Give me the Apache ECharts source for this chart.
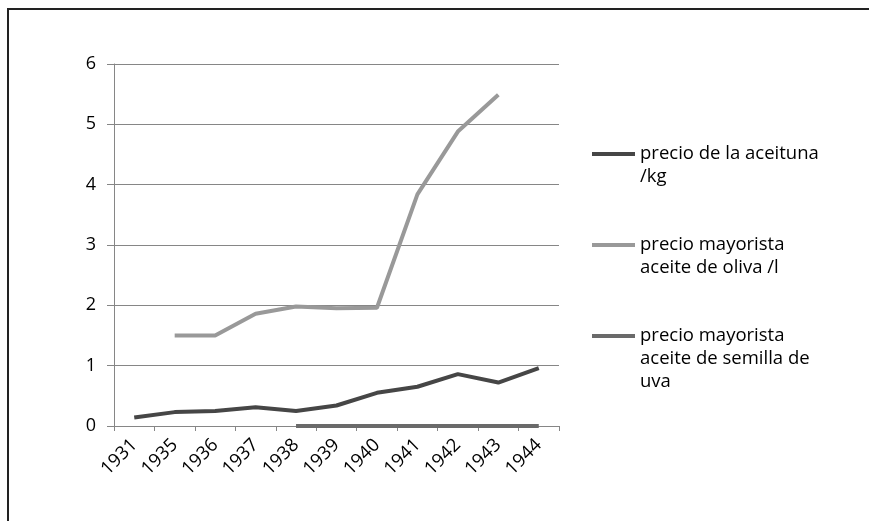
<!DOCTYPE html>
<html>
<head>
<meta charset="utf-8">
<script src="https://cdn.jsdelivr.net/npm/echarts@6/dist/echarts.min.js"></script>
<style>html,body{margin:0;padding:0;background:#fff;}#c{width:869px;height:521px;}</style>
</head>
<body>
<div id="c"></div>
<script>
var categories = ['1931','1935','1936','1937','1938','1939','1940','1941','1942','1943','1944'];
var seriesNames = ['precio de la aceituna /kg','precio mayorista aceite de oliva /l','precio mayorista aceite de semilla de uva'];
var legendLabels = [' \nprecio de la aceituna\n/kg', ' \nprecio mayorista\naceite de oliva /l', ' \n \nprecio mayorista\naceite de semilla de\nuva'];
var aceituna = [0.14, 0.23, 0.25, 0.31, 0.25, 0.34, 0.55, 0.65, 0.86, 0.72, 0.96];
var aceiteOliva = [null, 1.5, 1.5, 1.86, 1.98, 1.95, 1.96, 3.84, 4.88, 5.49, null];
var aceiteSemilla = [null, null, null, null, 0, 0, 0, 0, 0, 0, 0];
var yTicks = [0, 1, 2, 3, 4, 5, 6];

var FONT = 'Open Sans';
var colors = ['#464646', '#999999', '#6a6a6a'];
var chart = echarts.init(document.getElementById('c'), null, {renderer: 'canvas'});

function mkLegend(i, top) {
  return {
    orient: 'vertical', left: 592, top: top, padding: 0,
    itemWidth: 43, itemHeight: 4, itemGap: 5, icon: 'rect',
    data: [seriesNames[i]],
    formatter: function () { return legendLabels[i]; },
    textStyle: {fontFamily: FONT, fontSize: 18.5, color: '#000', lineHeight: 23}
  };
}

chart.setOption({
  animation: false,
  backgroundColor: '#fff',
  color: colors,
  textStyle: {fontFamily: FONT},
  grid: {left: 114, right: 310, top: 64, bottom: 95, containLabel: false},
  legend: [mkLegend(0, 119.5), mkLegend(1, 210.5), mkLegend(2, 278.5)],
  graphic: [
    {type: 'line', shape: {x1: 8, y1: 8, x2: 8, y2: 521}, style: {stroke: '#222', lineWidth: 2}},
    {type: 'line', shape: {x1: 7, y1: 9, x2: 869, y2: 9}, style: {stroke: '#222', lineWidth: 2}}
  ],
  xAxis: {
    type: 'category', data: categories, boundaryGap: true,
    axisLine: {lineStyle: {color: '#868686', width: 1}},
    axisTick: {show: true, length: 5, lineStyle: {color: '#868686'}},
    axisLabel: {rotate: 45, fontSize: 18.5, color: '#000', fontFamily: FONT, margin: 16, interval: 0}
  },
  yAxis: {
    type: 'value', min: yTicks[0], max: yTicks[yTicks.length - 1], interval: 1,
    axisLine: {show: true, lineStyle: {color: '#868686', width: 1}},
    axisTick: {show: true, length: 7, lineStyle: {color: '#868686'}},
    splitLine: {lineStyle: {color: '#868686', width: 1}},
    axisLabel: {fontSize: 18, color: '#000', fontFamily: FONT, margin: 18}
  },
  series: [
    {name: seriesNames[0], type: 'line', data: aceituna, symbol: 'none', lineStyle: {width: 4, color: colors[0]}, itemStyle: {color: colors[0]}},
    {name: seriesNames[1], type: 'line', data: aceiteOliva, symbol: 'none', lineStyle: {width: 4, color: colors[1]}, itemStyle: {color: colors[1]}},
    {name: seriesNames[2], type: 'line', data: aceiteSemilla, symbol: 'none', lineStyle: {width: 4, color: colors[2]}, itemStyle: {color: colors[2]}}
  ]
});
</script>
</body>
</html>
